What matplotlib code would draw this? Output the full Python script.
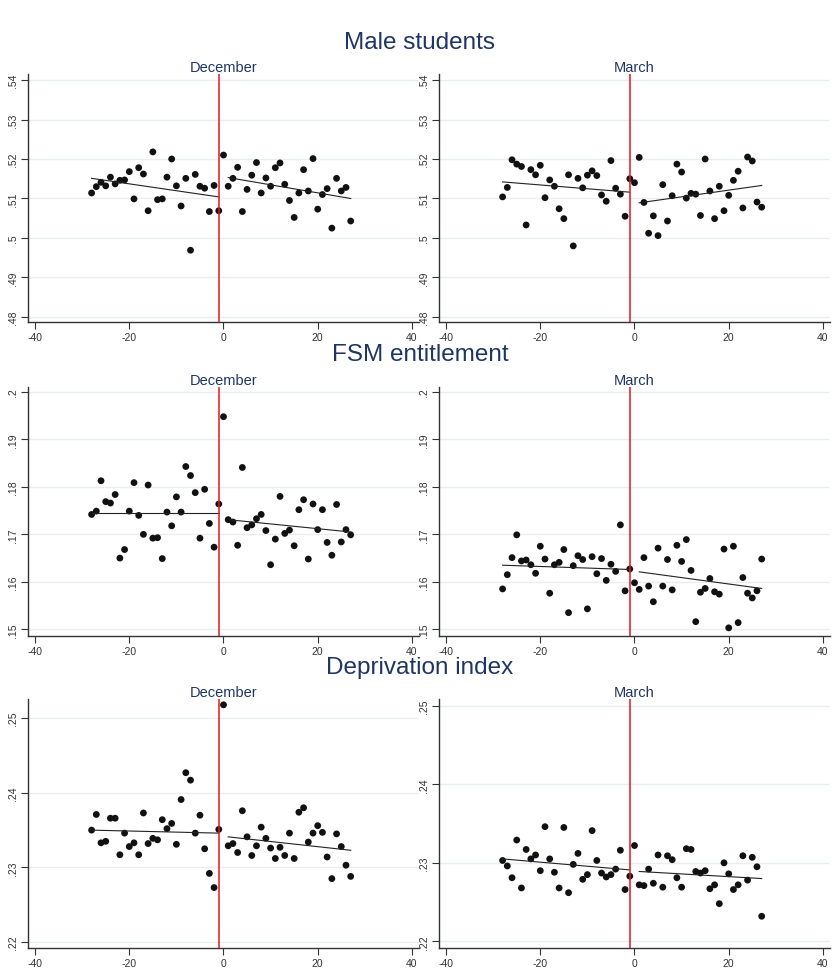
import matplotlib
matplotlib.use("Agg")
import matplotlib.pyplot as plt
from matplotlib.ticker import FuncFormatter

plt.rcParams['font.family'] = ['Liberation Sans', 'DejaVu Sans']
plt.rcParams['axes.unicode_minus'] = False

# ---------------- data ----------------
days = [-28, -27, -26, -25, -24, -23, -22, -21, -20, -19, -18, -17, -16, -15,
        -14, -13, -12, -11, -10, -9, -8, -7, -6, -5, -4, -3, -2, -1,
        0, 1, 2, 3, 4, 5, 6, 7, 8, 9, 10, 11, 12, 13, 14,
        15, 16, 17, 18, 19, 20, 21, 22, 23, 24, 25, 26, 27]

male_dec = [0.5114, 0.5130, 0.5141, 0.5132, 0.5154, 0.5137, 0.5146, 0.5147, 0.5168, 0.5099,
            0.5178, 0.5162, 0.5069, 0.5218, 0.5097, 0.5099, 0.5154, 0.5200, 0.5132, 0.5081,
            0.5151, 0.4969, 0.5161, 0.5131, 0.5126, 0.5067, 0.5133, 0.5069,
            0.5210, 0.5131, 0.5151, 0.5179, 0.5067, 0.5123, 0.5159, 0.5191, 0.5114, 0.5152,
            0.5131, 0.5178, 0.5190, 0.5136, 0.5095, 0.5052, 0.5114, 0.5173, 0.5119, 0.5201,
            0.5073, 0.5110, 0.5125, 0.5025, 0.5151, 0.5119, 0.5128, 0.5043]
male_mar = [0.5104, 0.5128, 0.5198, 0.5187, 0.5181, 0.5033, 0.5173, 0.5160, 0.5184, 0.5102,
            0.5147, 0.5131, 0.5074, 0.5049, 0.5160, 0.4980, 0.5151, 0.5127, 0.5159, 0.5170,
            0.5158, 0.5109, 0.5093, 0.5196, 0.5126, 0.5111, 0.5055, 0.5150,
            0.5140, 0.5204, 0.5090, 0.5012, 0.5056, 0.5006, 0.5135, 0.5043, 0.5107, 0.5187,
            0.5167, 0.5101, 0.5113, 0.5111, 0.5057, 0.5200, 0.5119, 0.5049, 0.5131, 0.5069,
            0.5108, 0.5146, 0.5169, 0.5076, 0.5205, 0.5195, 0.5091, 0.5078]
fsm_dec = [0.1742, 0.1749, 0.1813, 0.1769, 0.1766, 0.1784, 0.1650, 0.1668, 0.1749, 0.1809,
           0.1740, 0.1700, 0.1804, 0.1692, 0.1693, 0.1649, 0.1747, 0.1718, 0.1779, 0.1747,
           0.1843, 0.1824, 0.1788, 0.1692, 0.1795, 0.1723, 0.1673, 0.1764,
           0.1948, 0.1731, 0.1726, 0.1677, 0.1841, 0.1714, 0.1720, 0.1733, 0.1742, 0.1708,
           0.1636, 0.1690, 0.1780, 0.1702, 0.1709, 0.1676, 0.1752, 0.1773, 0.1648, 0.1764,
           0.1710, 0.1752, 0.1683, 0.1656, 0.1763, 0.1684, 0.1710, 0.1699]
fsm_mar = [0.1585, 0.1615, 0.1651, 0.1699, 0.1644, 0.1646, 0.1636, 0.1618, 0.1675, 0.1648,
           0.1576, 0.1636, 0.1641, 0.1668, 0.1535, 0.1634, 0.1655, 0.1647, 0.1543, 0.1653,
           0.1617, 0.1649, 0.1603, 0.1637, 0.1622, 0.1720, 0.1581, 0.1627,
           0.1598, 0.1584, 0.1651, 0.1591, 0.1558, 0.1671, 0.1591, 0.1647, 0.1583, 0.1677,
           0.1643, 0.1689, 0.1624, 0.1516, 0.1578, 0.1586, 0.1607, 0.1579, 0.1574, 0.1669,
           0.1503, 0.1675, 0.1514, 0.1609, 0.1576, 0.1566, 0.1581, 0.1648]
dep_dec = [0.2350, 0.2371, 0.2333, 0.2335, 0.2366, 0.2366, 0.2317, 0.2346, 0.2328, 0.2333,
           0.2317, 0.2373, 0.2332, 0.2339, 0.2337, 0.2364, 0.2352, 0.2359, 0.2331, 0.2391,
           0.2427, 0.2417, 0.2346, 0.2370, 0.2325, 0.2292, 0.2273, 0.2351,
           0.2518, 0.2329, 0.2332, 0.2320, 0.2376, 0.2341, 0.2316, 0.2329, 0.2354, 0.2339,
           0.2326, 0.2312, 0.2327, 0.2316, 0.2346, 0.2312, 0.2374, 0.2380, 0.2334, 0.2346,
           0.2356, 0.2347, 0.2314, 0.2285, 0.2345, 0.2328, 0.2303, 0.2288]
dep_mar = [0.2303, 0.2296, 0.2281, 0.2329, 0.2268, 0.2317, 0.2305, 0.2310, 0.2290, 0.2346,
           0.2305, 0.2288, 0.2268, 0.2345, 0.2262, 0.2298, 0.2312, 0.2279, 0.2285, 0.2341,
           0.2303, 0.2287, 0.2282, 0.2285, 0.2292, 0.2316, 0.2266, 0.2283,
           0.2322, 0.2272, 0.2271, 0.2292, 0.2274, 0.2310, 0.2269, 0.2309, 0.2304, 0.2281,
           0.2269, 0.2318, 0.2317, 0.2289, 0.2287, 0.2290, 0.2267, 0.2272, 0.2248, 0.2300,
           0.2286, 0.2266, 0.2272, 0.2309, 0.2278, 0.2307, 0.2295, 0.2232]

# fitted-line endpoints: (x0, y0, x1, y1) for pre and post segments
male_dec_fit = [(-28, 0.5151, -1, 0.5104), (1, 0.5153, 27, 0.5100)]
male_mar_fit = [(-28, 0.5142, -1, 0.5116), (1, 0.5089, 27, 0.5133)]
fsm_dec_fit = [(-28, 0.17445, -1, 0.17445), (1, 0.1731, 27, 0.1705)]
fsm_mar_fit = [(-28, 0.1635, -1, 0.1626), (1, 0.1621, 27, 0.1586)]
dep_dec_fit = [(-28, 0.2350, -1, 0.2346), (1, 0.2341, 27, 0.2323)]
dep_mar_fit = [(-28, 0.2305, -1, 0.2291), (1, 0.2289, 27, 0.2280)]

cutoff = -1
row_titles = ["Male students", "FSM entitlement", "Deprivation index"]
col_titles = ["December", "March"]
x_ticks = [-40, -20, 0, 20, 40]
male_yticks = [0.48, 0.49, 0.50, 0.51, 0.52, 0.53, 0.54]
fsm_yticks = [0.15, 0.16, 0.17, 0.18, 0.19, 0.20]
dep_yticks = [0.22, 0.23, 0.24, 0.25]

# ---------------- layout ----------------
W, H = 837, 978
fig = plt.figure(figsize=(W / 100, H / 100), dpi=100)
fig.patch.set_facecolor('white')

title_col = '#1f3563'


def stata_fmt(v, pos=None):
    s = f"{v:.2f}".rstrip('0').rstrip('.')
    if s.startswith('0.'):
        s = s[1:]
    return s


def px_axes(x0, y0, x1, y1):
    return fig.add_axes([x0 / W, 1 - y1 / H, (x1 - x0) / W, (y1 - y0) / H])


panels = [
    (0, 0, male_dec, male_dec_fit, male_yticks, (0.47873, 0.54152), (28, 75, 419, 323)),
    (0, 1, male_mar, male_mar_fit, male_yticks, (0.47873, 0.54152), (439, 75, 830, 323)),
    (1, 0, fsm_dec, fsm_dec_fit, fsm_yticks, (0.14858, 0.20106), (28, 388, 419, 637)),
    (1, 1, fsm_mar, fsm_mar_fit, fsm_yticks, (0.14858, 0.20106), (439, 388, 830, 637)),
    (2, 0, dep_dec, dep_dec_fit, dep_yticks, (0.2192, 0.25258), (28, 700, 419, 949)),
    (2, 1, dep_mar, dep_mar_fit, dep_yticks, (0.21916, 0.25085), (439, 700, 830, 949)),
]

for row, col, yv, fit, yt, ylim, box in panels:
    ax = px_axes(*box)
    ax.set_xlim(-41.5, 41.5)
    ax.set_ylim(*ylim)
    ax.set_yticks(yt)
    ax.set_xticks(x_ticks)
    ax.yaxis.set_major_formatter(FuncFormatter(stata_fmt))
    ax.grid(axis='y', color='#e6eff1', linewidth=1.0, zorder=0)
    ax.set_axisbelow(True)
    for s in ['top', 'right']:
        ax.spines[s].set_visible(False)
    for s in ['left', 'bottom']:
        ax.spines[s].set_color('#333333')
        ax.spines[s].set_linewidth(1.0)
    ax.tick_params(axis='both', direction='out', length=5, width=0.8,
                   color='#333333', labelcolor='#333333', labelsize=7.5, pad=2)
    for lab in ax.get_yticklabels():
        lab.set_rotation(90)
        lab.set_va('center')
    ax.scatter(days, yv, s=24, color='#111111', edgecolors='none', zorder=3)
    for (xa, ya, xb, yb) in fit:
        ax.plot([xa, xb], [ya, yb], color='#222222', linewidth=0.8, zorder=4)
    ax.axvline(cutoff, color='#e8141c', linewidth=1.1, zorder=5)
    ax.set_title(col_titles[col], fontsize=10.5, color=title_col, pad=2)

row_title_y = [43, 355, 668]
for t, yp in zip(row_titles, row_title_y):
    fig.text(420 / W, 1 - yp / H, t, ha='center', va='center', fontsize=17.5, color=title_col)

fig.savefig('out.png', dpi=100, facecolor='white')
